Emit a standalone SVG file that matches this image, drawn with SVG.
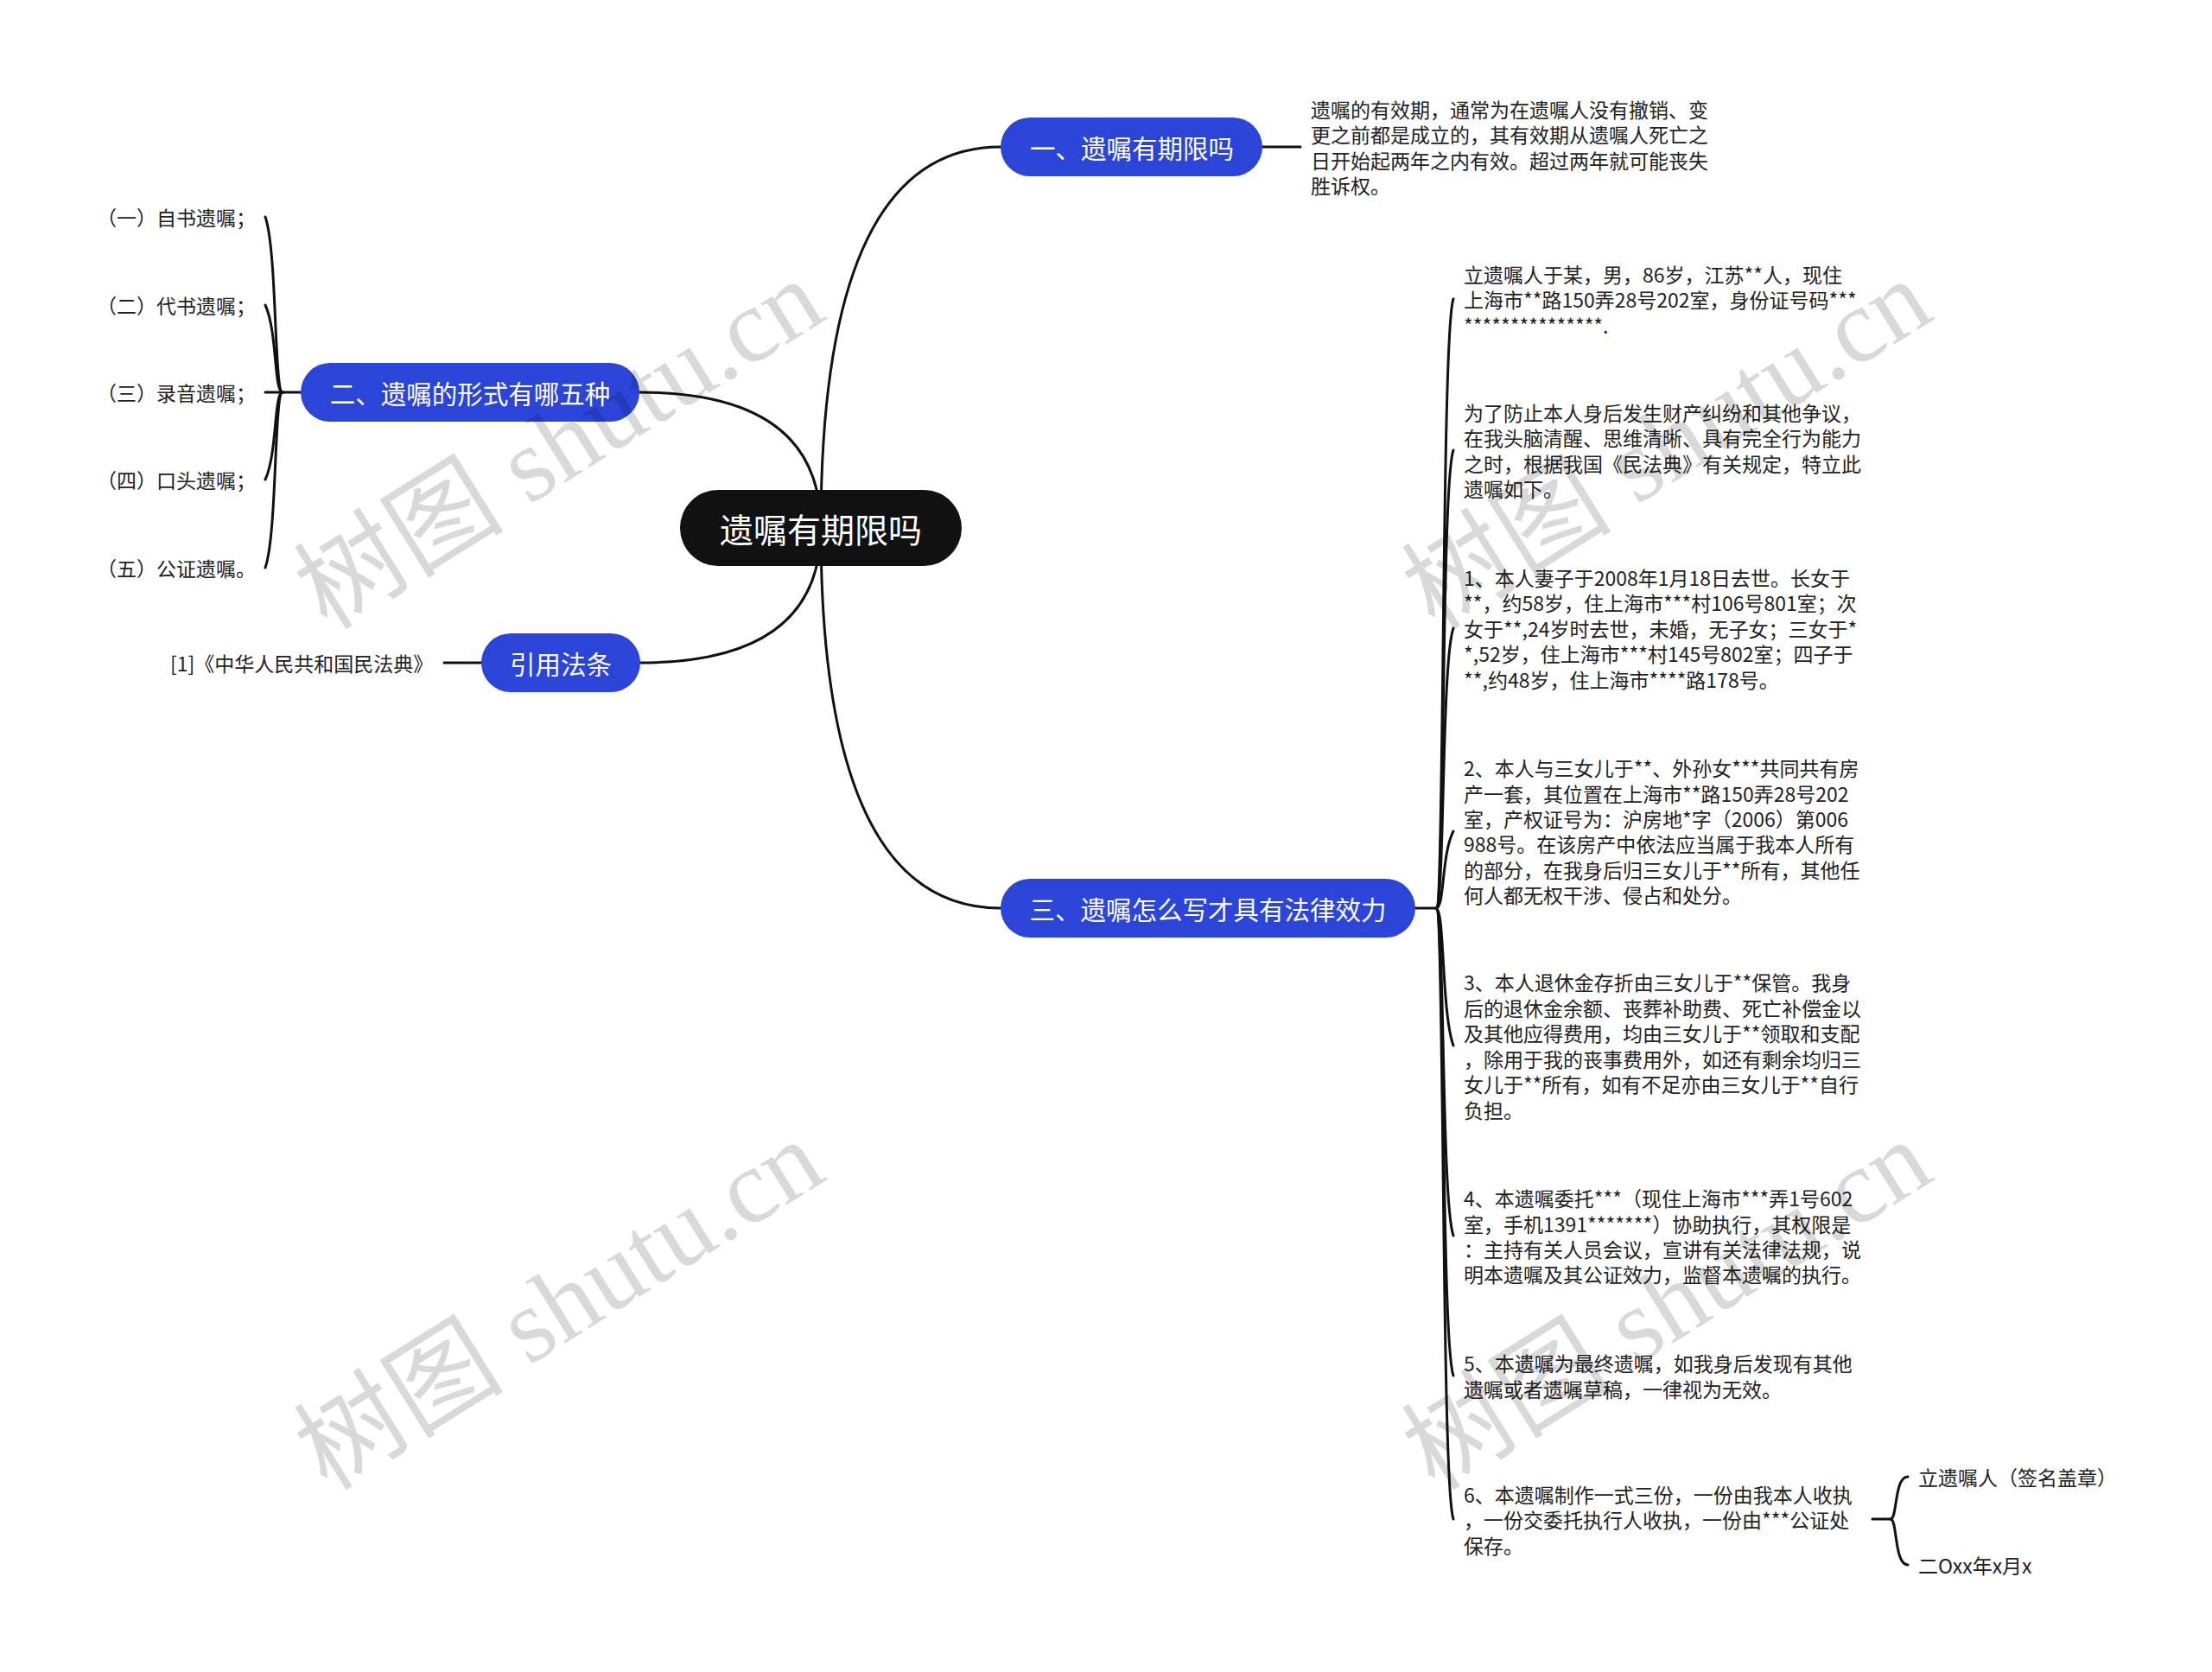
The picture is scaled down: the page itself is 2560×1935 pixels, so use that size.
<svg xmlns="http://www.w3.org/2000/svg" width="2560" height="1935" viewBox="0 0 2560 1935">
<style>
text { font-family: "Noto Sans CJK SC", "Liberation Sans", sans-serif; dominant-baseline: central; }
.leaf { font-size: 23px; fill: #222; }
.br { font-size: 29.5px; fill: #fff; text-anchor: middle; }
.rt { font-size: 39px; fill: #fff; text-anchor: middle; }
.brbox { fill: #2b45d8; }
.conn { fill: none; stroke: #111; stroke-width: 3; stroke-linecap: round; }
.wm { font-family: "Liberation Serif", "Noto Sans CJK SC", serif; font-size: 122px; fill: #000; fill-opacity: 0.15; text-anchor: middle; }
</style>
<rect width="2560" height="1935" fill="#fff"/>
<g id="connectors">
<path class="conn" d="M950,611 Q950,170 1158,170"/>
<path class="conn" d="M740,454 Q950,454 950,611"/>
<path class="conn" d="M741,767 Q950,767 950,611"/>
<path class="conn" d="M950,611 Q950,1051 1158,1051"/>
<path class="conn" d="M1461,170 L1505,170"/>
<path class="conn" d="M348,454 L327,454"/>
<path class="conn" d="M327,454 C317,454 321,291 307,251"/>
<path class="conn" d="M327,454 C317,454 321,383 307,353"/>
<path class="conn" d="M327,454 L307,454"/>
<path class="conn" d="M327,454 C317,454 321,525 307,555"/>
<path class="conn" d="M327,454 C317,454 321,617 307,657"/>
<path class="conn" d="M557,767 L514,767"/>
<path class="conn" d="M1638,1051 L1662,1051"/>
<path class="conn" d="M1662,1051 C1672,1051 1668,386 1682,346"/>
<path class="conn" d="M1662,1051 C1672,1051 1668,561 1682,521"/>
<path class="conn" d="M1662,1051 C1672,1051 1668,767 1682,727"/>
<path class="conn" d="M1662,1051 C1672,1051 1668,989 1682,962"/>
<path class="conn" d="M1662,1051 C1672,1051 1668,1170 1682,1210"/>
<path class="conn" d="M1662,1051 C1672,1051 1668,1390 1682,1430"/>
<path class="conn" d="M1662,1051 C1672,1051 1668,1552 1682,1592"/>
<path class="conn" d="M1662,1051 C1672,1051 1668,1718 1682,1758"/>
<path class="conn" d="M2167,1758 L2188,1758"/>
<path class="conn" d="M2188,1758 C2196,1758 2192,1709 2208,1709"/>
<path class="conn" d="M2188,1758 C2196,1758 2192,1811 2208,1811"/>
</g>
<g id="root">
<rect x="787" y="567" width="326" height="88" rx="44" fill="#111"/>
<text class="rt" x="950" y="611">遗嘱有期限吗</text>
</g>
<g id="b1">
<rect class="brbox" x="1158" y="136" width="303" height="68" rx="34"/>
<text class="br" x="1310" y="170">一、遗嘱有期限吗</text>
</g>
<g id="b1-text">
<text class="leaf" x="1517" y="126">遗嘱的有效期，通常为在遗嘱人没有撤销、变</text>
<text class="leaf" x="1517" y="155">更之前都是成立的，其有效期从遗嘱人死亡之</text>
<text class="leaf" x="1517" y="184.5">日开始起两年之内有效。超过两年就可能丧失</text>
<text class="leaf" x="1517" y="214">胜诉权。</text>
</g>
<g id="b2">
<rect class="brbox" x="348" y="420" width="392" height="68" rx="34"/>
<text class="br" x="544" y="454">二、遗嘱的形式有哪五种</text>
</g>
<g id="b2-c1"><text class="leaf" x="112" y="251">（一）自书遗嘱；</text></g>
<g id="b2-c2"><text class="leaf" x="112" y="353">（二）代书遗嘱；</text></g>
<g id="b2-c3"><text class="leaf" x="112" y="454">（三）录音遗嘱；</text></g>
<g id="b2-c4"><text class="leaf" x="112" y="555">（四）口头遗嘱；</text></g>
<g id="b2-c5"><text class="leaf" x="112" y="657">（五）公证遗嘱。</text></g>
<g id="ref">
<rect class="brbox" x="557" y="733" width="184" height="68" rx="34"/>
<text class="br" x="649" y="767">引用法条</text>
</g>
<g id="ref-c1"><text class="leaf" x="197" y="767">[1]《中华人民共和国民法典》</text></g>
<g id="b3">
<rect class="brbox" x="1158" y="1017" width="480" height="68" rx="34"/>
<text class="br" x="1398" y="1051">三、遗嘱怎么写才具有法律效力</text>
</g>
<g id="c-a">
<text class="leaf" x="1694" y="317">立遗嘱人于某，男，86岁，江苏**人，现住</text>
<text class="leaf" x="1694" y="346">上海市**路150弄28号202室，身份证号码***</text>
<text class="leaf" x="1694" y="376">***************.</text>
</g>
<g id="c-b">
<text class="leaf" x="1694" y="477">为了防止本人身后发生财产纠纷和其他争议，</text>
<text class="leaf" x="1694" y="506">在我头脑清醒、思维清晰、具有完全行为能力</text>
<text class="leaf" x="1694" y="536">之时，根据我国《民法典》有关规定，特立此</text>
<text class="leaf" x="1694" y="565">遗嘱如下。</text>
</g>
<g id="c-c">
<text class="leaf" x="1694" y="668">1、本人妻子于2008年1月18日去世。长女于</text>
<text class="leaf" x="1694" y="697">**，约58岁，住上海市***村106号801室；次</text>
<text class="leaf" x="1694" y="727">女于**,24岁时去世，未婚，无子女；三女于*</text>
<text class="leaf" x="1694" y="756">*,52岁，住上海市***村145号802室；四子于</text>
<text class="leaf" x="1694" y="786">**,约48岁，住上海市****路178号。</text>
</g>
<g id="c-d">
<text class="leaf" x="1694" y="888">2、本人与三女儿于**、外孙女***共同共有房</text>
<text class="leaf" x="1694" y="918">产一套，其位置在上海市**路150弄28号202</text>
<text class="leaf" x="1694" y="947">室，产权证号为：沪房地*字（2006）第006</text>
<text class="leaf" x="1694" y="976">988号。在该房产中依法应当属于我本人所有</text>
<text class="leaf" x="1694" y="1006">的部分，在我身后归三女儿于**所有，其他任</text>
<text class="leaf" x="1694" y="1035">何人都无权干涉、侵占和处分。</text>
</g>
<g id="c-e">
<text class="leaf" x="1694" y="1136">3、本人退休金存折由三女儿于**保管。我身</text>
<text class="leaf" x="1694" y="1166">后的退休金余额、丧葬补助费、死亡补偿金以</text>
<text class="leaf" x="1694" y="1195">及其他应得费用，均由三女儿于**领取和支配</text>
<text class="leaf" x="1694" y="1225">，除用于我的丧事费用外，如还有剩余均归三</text>
<text class="leaf" x="1694" y="1254">女儿于**所有，如有不足亦由三女儿于**自行</text>
<text class="leaf" x="1694" y="1284">负担。</text>
</g>
<g id="c-f">
<text class="leaf" x="1694" y="1386">4、本遗嘱委托***（现住上海市***弄1号602</text>
<text class="leaf" x="1694" y="1416">室，手机1391*******）协助执行，其权限是</text>
<text class="leaf" x="1694" y="1445">：主持有关人员会议，宣讲有关法律法规，说</text>
<text class="leaf" x="1694" y="1474">明本遗嘱及其公证效力，监督本遗嘱的执行。</text>
</g>
<g id="c-g">
<text class="leaf" x="1694" y="1577">5、本遗嘱为最终遗嘱，如我身后发现有其他</text>
<text class="leaf" x="1694" y="1607">遗嘱或者遗嘱草稿，一律视为无效。</text>
</g>
<g id="c-h">
<text class="leaf" x="1694" y="1729">6、本遗嘱制作一式三份，一份由我本人收执</text>
<text class="leaf" x="1694" y="1758">，一份交委托执行人收执，一份由***公证处</text>
<text class="leaf" x="1694" y="1788">保存。</text>
</g>
<g id="h-1"><text class="leaf" x="2220" y="1709">立遗嘱人（签名盖章）</text></g>
<g id="h-2"><text class="leaf" x="2220" y="1811">二Oxx年x月x</text></g>
<g id="watermarks">
<text class="wm" transform="translate(647,514) rotate(-32)" x="0" y="0">树图 shutu.cn</text>
<text class="wm" transform="translate(1929,514) rotate(-32)" x="0" y="0">树图 shutu.cn</text>
<text class="wm" transform="translate(647,1510) rotate(-32)" x="0" y="0">树图 shutu.cn</text>
<text class="wm" transform="translate(1929,1510) rotate(-32)" x="0" y="0">树图 shutu.cn</text>
</g>
</svg>
